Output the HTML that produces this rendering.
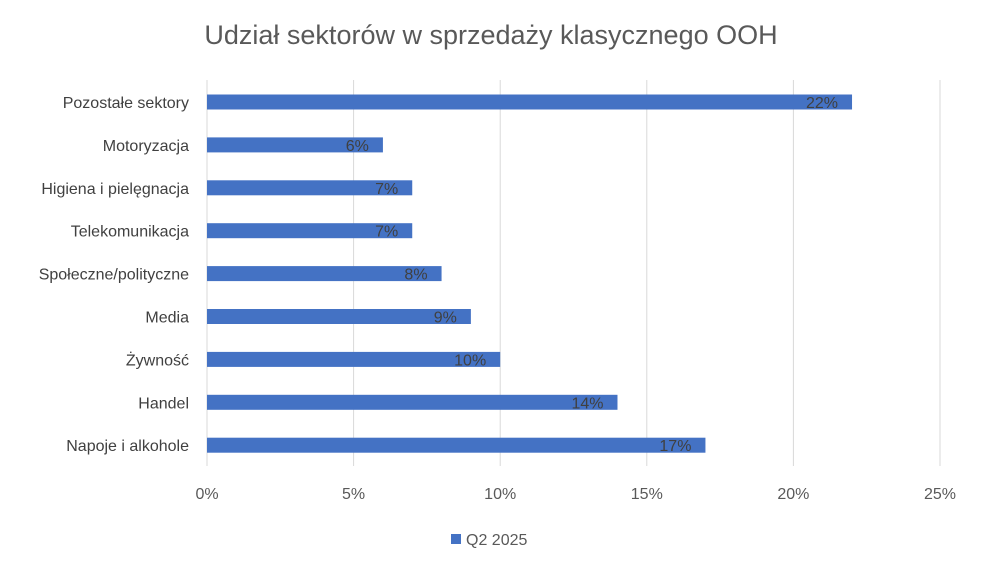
<!DOCTYPE html>
<html><head><meta charset="utf-8"><style>
body{margin:0;background:#fff;}
svg{display:block;font-family:"Liberation Sans",sans-serif;}
</style></head><body>
<svg id="chart" width="982" height="572" viewBox="0 0 982 572">
<rect width="982" height="572" fill="#fff"/>
<text x="491" y="44" text-anchor="middle" font-size="27" fill="#595959">Udział sektorów w sprzedaży klasycznego OOH</text>
<g id="grid"></g><g id="bars"></g><g id="labels"></g>
<g>
<rect x="451" y="534" width="10" height="10" fill="#4472c4"/>
<text x="466" y="545" font-size="16" fill="#595959">Q2 2025</text>
</g>
</svg>
<script>
const categories=["Pozostałe sektory","Motoryzacja","Higiena i pielęgnacja","Telekomunikacja","Społeczne/polityczne","Media","Żywność","Handel","Napoje i alkohole"];
const values=[22,6,7,7,8,9,10,14,17];
const ticks=[0,5,10,15,20,25];
const NS="http://www.w3.org/2000/svg";
const x0=207,x1=940,xmax=25,yTop=102,step=42.9,bh=15;
const xs=v=>x0+(v/xmax)*(x1-x0);
const ys=i=>yTop+i*step;
function mk(tag,attrs,parent,txt){const e=document.createElementNS(NS,tag);for(const k in attrs)e.setAttribute(k,attrs[k]);if(txt!=null)e.textContent=txt;parent.appendChild(e);return e;}
const grid=document.getElementById('grid'),bars=document.getElementById('bars'),labels=document.getElementById('labels');
ticks.forEach(t=>{
 const l=mk('line',{x1:xs(t),x2:xs(t),y1:80,y2:466,stroke:'#d9d9d9','stroke-width':1},grid);
 
 
 const tx=mk('text',{x:xs(t),y:499,'text-anchor':'middle','font-size':16,fill:'#595959'},grid,t+'%');
 
 
});
categories.forEach((c,i)=>{
 const y=ys(i);
 const r=mk('rect',{x:x0,y:y-bh/2,width:xs(values[i])-x0,height:bh,fill:'#4472c4'},bars);
 
 
 const lb=mk('text',{x:189,y:y+6,'text-anchor':'end','font-size':16,fill:'#404040'},labels,c);
 
 
 const dl=mk('text',{x:xs(values[i])-14,y:y+6,'text-anchor':'end','font-size':16,fill:'#404040'},labels,values[i]+'%');
 
 
});
</script>
</body></html>
